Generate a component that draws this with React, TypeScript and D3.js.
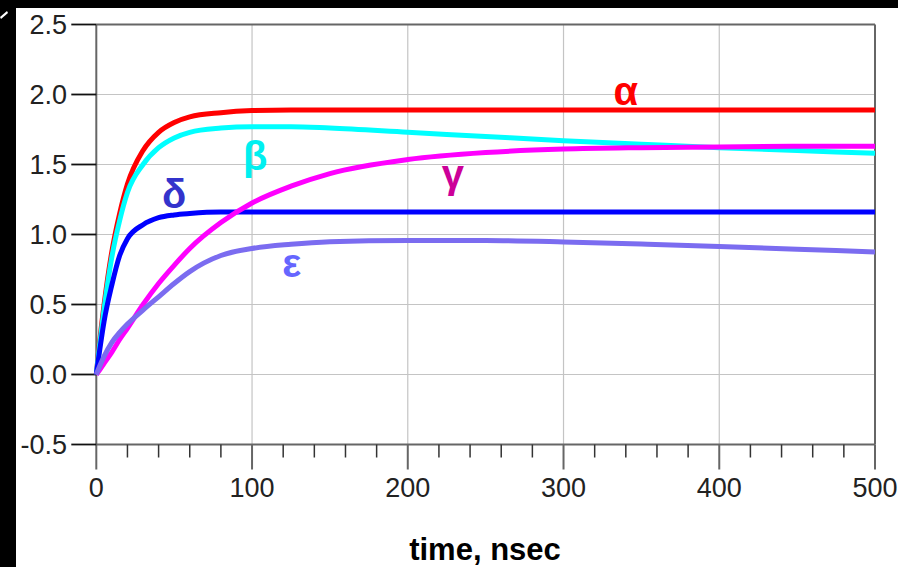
import React from 'react';
import * as d3 from 'd3';

// sampled time points (nsec)
const times = [0, 2, 5, 10, 15, 20, 30, 40, 50, 60, 80, 100, 125, 150, 200, 250, 300, 350, 400, 450, 500];

const alpha = [0, 0.22, 0.5, 0.88, 1.15, 1.36, 1.6, 1.73, 1.8, 1.84, 1.87, 1.885, 1.89, 1.89, 1.89, 1.89, 1.89, 1.89, 1.89, 1.89, 1.89];
const beta = [0, 0.2, 0.47, 0.84, 1.1, 1.3, 1.5, 1.62, 1.69, 1.73, 1.76, 1.77, 1.77, 1.76, 1.73, 1.7, 1.67, 1.645, 1.62, 1.6, 1.58];
const gamma = [0, 0.03, 0.08, 0.16, 0.25, 0.33, 0.5, 0.65, 0.78, 0.9, 1.085, 1.225, 1.345, 1.435, 1.535, 1.585, 1.61, 1.62, 1.625, 1.63, 1.63];
const delta = [0, 0.16, 0.38, 0.64, 0.85, 0.97, 1.07, 1.12, 1.14, 1.15, 1.16, 1.16, 1.16, 1.16, 1.16, 1.16, 1.16, 1.16, 1.16, 1.16, 1.16];
const epsilon = [0, 0.055, 0.13, 0.23, 0.3, 0.36, 0.46, 0.555, 0.65, 0.735, 0.85, 0.9, 0.93, 0.948, 0.958, 0.957, 0.947, 0.932, 0.915, 0.895, 0.875];

const xTicks = [0, 100, 200, 300, 400, 500];
const xMinorTicks = d3.range(0, 501, 20);
const yTicks = [-0.5, 0.0, 0.5, 1.0, 1.5, 2.0, 2.5];

// drawing order: red under cyan etc.
const series = [
  {name: 'α', values: alpha, color: '#ff0000', labelColor: '#ff0000', lt: 340, lv: 1.925},
  {name: 'β', values: beta, color: '#00ffff', labelColor: '#00f0f0', lt: 102, lv: 1.46},
  {name: 'δ', values: delta, color: '#0000ff', labelColor: '#3333cc', lt: 50, lv: 1.19},
  {name: 'γ', values: gamma, color: '#ff00ff', labelColor: '#cc0099', lt: 229, lv: 1.33},
  {name: 'ε', values: epsilon, color: '#7b6cf0', labelColor: '#6666ff', lt: 125.5, lv: 0.7},
];

const W = 898, H = 567;
const left = 96.3, right = 875, top = 24.5, bottom = 444.5;

const fmtY = (v: number) => d3.format('.1f')(v).replace('\u2212', '-');

export default function App() {
  const x = d3.scaleLinear().domain([0, 500]).range([left, right]);
  const y = d3.scaleLinear().domain([-0.5, 2.5]).range([bottom, top]);

  const line = d3.line<[number, number]>()
    .x(d => x(d[0]))
    .y(d => y(d[1]))
    .curve(d3.curveMonotoneX);

  const font = '"Liberation Sans", Arial, sans-serif';

  return (
    <div style={{position: 'fixed', left: 0, top: 0}}>
      <svg width={W} height={H} style={{display: 'block'}}>
        <rect x={0} y={0} width={W} height={H} fill="#000" />
        <rect x={16} y={8} width={W - 16} height={H - 8} fill="#fff" />
        <path d="M0,17 L7,11 L8,13 L1,19 Z" fill="#fff" />

        {/* grid */}
        {xTicks.slice(1, -1).map(t => (
          <line key={'gx' + t} x1={x(t)} x2={x(t)} y1={top} y2={bottom} stroke="#c4c4c4" strokeWidth={1.2} />
        ))}
        {yTicks.slice(1, -1).map(v => (
          <line key={'gy' + v} x1={left} x2={right} y1={y(v)} y2={y(v)} stroke="#c4c4c4" strokeWidth={1.2} />
        ))}

        {/* frame */}
        <line x1={left} x2={right} y1={top} y2={top} stroke="#666" strokeWidth={2} />
        <line x1={right} x2={right} y1={top} y2={bottom} stroke="#666" strokeWidth={2} />
        <line x1={left} x2={right} y1={bottom} y2={bottom} stroke="#666" strokeWidth={2} />
        <line x1={left} x2={left} y1={top} y2={bottom} stroke="#666" strokeWidth={2} />

        {/* x ticks */}
        {xMinorTicks.map(t => {
          const major = t % 100 === 0;
          return (
            <line key={'tx' + t} x1={x(t)} x2={x(t)} y1={bottom} y2={bottom + (major ? 25 : 13)}
              stroke={major ? '#666' : '#333'} strokeWidth={major ? 2 : 1.5} />
          );
        })}
        {xTicks.map(t => (
          <text key={'lx' + t} x={x(t)} y={497} textAnchor="middle" fontFamily={font} fontSize={27} fill="#222">
            {d3.format('d')(t)}
          </text>
        ))}

        {/* y ticks */}
        {yTicks.map(v => (
          <g key={'ty' + v}>
            <line x1={left - 25} x2={left} y1={y(v)} y2={y(v)} stroke="#111" strokeWidth={1.8} />
            <text x={67} y={y(v) + 9.5} textAnchor="end" fontFamily={font} fontSize={27} fill="#222">
              {fmtY(v)}
            </text>
          </g>
        ))}

        {/* curves */}
        {series.map(s => (
          <path key={s.name} d={line(times.map((t, i) => [t, s.values[i]] as [number, number])) || ''}
            fill="none" stroke={s.color} strokeWidth={5} strokeLinejoin="round" />
        ))}

        {/* curve labels */}
        {series.map(s => (
          <text key={'l' + s.name} x={x(s.lt)} y={y(s.lv)} textAnchor="middle" fontFamily={font}
            fontSize={40} fontWeight="bold" fill={s.labelColor}>
            {s.name}
          </text>
        ))}

        <text x={485} y={560} textAnchor="middle" fontFamily={font} fontSize={31} fontWeight="bold" fill="#000">
          time, nsec
        </text>
      </svg>
    </div>
  );
}
